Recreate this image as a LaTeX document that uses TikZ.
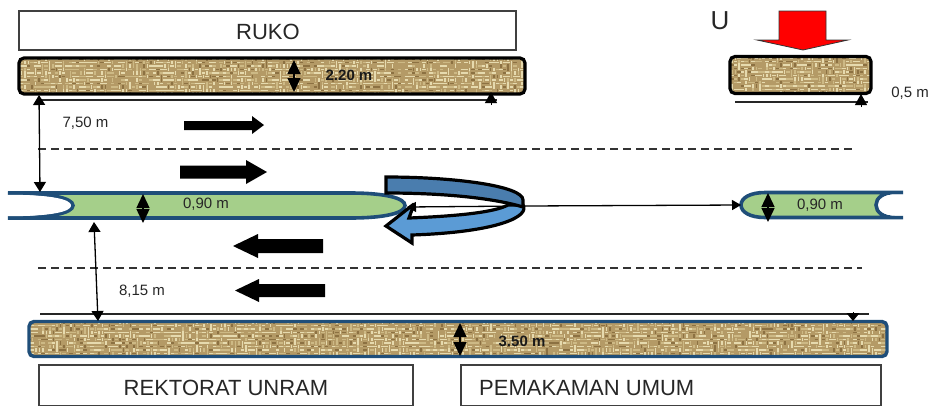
\documentclass[tikz,border=0pt]{standalone}
\usepackage{fontspec}
\setmainfont{Liberation Sans}
\usetikzlibrary{arrows.meta}
\definecolor{burlapbase}{HTML}{B49A66}
\definecolor{burlaplight}{HTML}{E6DAAE}
\definecolor{burlapmid}{HTML}{CDB985}
\definecolor{burlapdark}{HTML}{8C7142}
\definecolor{medgreen}{HTML}{A5CF8A}
\definecolor{medblue}{HTML}{1F4E79}
\definecolor{turndark}{HTML}{4A7DAE}
\definecolor{turnlight}{HTML}{5B9BD5}
\newcommand{\weavefill}[2]{%
  \fill[burlapbase] (-#1/2-3,-#2/2-3) rectangle (#1/2+3,#2/2+3);
  \pgfmathsetmacro{\wlimit}{#1/2+2}
  \pgfmathsetmacro{\hlimit}{#2/2+2}
  \foreach \wy in {-24,-20.5,...,24}{%
    \pgfmathparse{abs(\wy)<\hlimit ? 1 : 0}
    \ifnum\pgfmathresult=1
    \foreach \wx in {-450,-446.5,...,450}{%
      \pgfmathparse{abs(\wx)<\wlimit ? 1 : 0}
      \ifnum\pgfmathresult=1
        \pgfmathrandominteger{\wk}{0}{6}
        \pgfmathrandominteger{\wd}{0}{2}
        \ifcase\wk\def\wc{burlaplight}\or\def\wc{burlaplight}\or\def\wc{burlaplight}\or\def\wc{burlapmid}\or\def\wc{burlapmid}\or\def\wc{burlapdark}\or\def\wc{burlapbase}\fi
        \ifnum\wd=0
          \draw[\wc,line width=1.4pt] (\wx,\wy-1.8) -- (\wx,\wy+1.8);
        \else
          \draw[\wc,line width=1.4pt] (\wx-1.8,\wy) -- (\wx+1.8,\wy);
        \fi
      \fi
    }
    \fi
  }%
}
\tikzset{
  x=1pt,y=-1pt,
  textbox/.style={draw=black!75,line width=1.1pt,fill=white,inner sep=0pt,outer sep=0pt},
  boxlab/.style={inner sep=0pt,font=\fontsize{22}{26}\selectfont,text=black!85},
  bar/.style={rounded corners=5pt,inner sep=0pt,outer sep=0pt,line width=3.2pt},
  blackbar/.style={bar,draw=black},
  bluebar/.style={bar,draw=medblue,line width=3.4pt},
  dim/.style={line width=1.3pt,{Triangle[length=10pt,width=12pt]}-{Triangle[length=10pt,width=12pt]}},
  thick dim/.style={line width=1.4pt,{Triangle[length=14pt,width=13pt]}-{Triangle[length=14pt,width=13pt]}},
  baseline rule/.style={line width=1.2pt,black!85},
  lane/.style={line width=1.2pt,black!80,dash pattern=on 8pt off 5pt},
  road arrow/.style={fill=black,draw=none},
  median/.style={fill=medgreen,draw=medblue,line width=3.6pt},
  lab/.style={inner sep=0pt,font=\fontsize{15}{18}\selectfont,text=black!85},
  boldlab/.style={inner sep=0pt,font=\fontsize{15}{18}\bfseries\selectfont,text=black!90},
  turn/.style={draw=black,line width=3.2pt,line join=miter,miter limit=3},
  tick/.style={line width=1pt,-{Triangle[length=11pt,width=12pt]}},
}
\begin{document}
\begin{tikzpicture}
\useasboundingbox (0,0) rectangle (929,405);
\pgfmathsetseed{4217}
% text boxes
\node[textbox,minimum width=497pt,minimum height=39pt] (ruko) at (267.5,30.5) {};
\node[boxlab] (rukot) at (268,32) {RUKO};
\node[textbox,minimum width=374pt,minimum height=41pt] (rek) at (226,385.5) {};
\node[boxlab] (rekt) at (226,388) {REKTORAT UNRAM};
\node[textbox,minimum width=420pt,minimum height=41pt] (pem) at (671,385.5) {};
\node[boxlab,anchor=west] (pemt) at (479,388) {PEMAKAMAN UMUM};
% burlap strips
\node[blackbar,minimum width=506pt,minimum height=36pt,path picture={\weavefill{506}{36}}] (topbar) at (272,76) {};
\node[blackbar,minimum width=141pt,minimum height=37pt,path picture={\weavefill{141}{37}}] (rightbar) at (800.5,75) {};
\node[bluebar,minimum width=858pt,minimum height=35pt,path picture={\weavefill{858}{35}}] (lowbar) at (458,339) {};
% median shapes
\path[median] (8,193) -- (350,193) .. controls (385,193) and (405,198) .. (405,205.5) .. controls (405,213) and (385,218) .. (350,218) -- (8,218) .. controls (50,218) and (73,213) .. (73,205.5) .. controls (73,198) and (50,193) .. (8,193) -- cycle;
\path[fill=white] (6,194.8) -- (8,194.8) .. controls (50,194.8) and (71,199) .. (71,205.5) .. controls (71,212) and (50,216.2) .. (8,216.2) -- (6,216.2) -- cycle;
\path[fill=white] (880,205) .. controls (880,199) and (885,194.5) .. (895,194.5) -- (905,194.5) -- (905,215.5) -- (895,215.5) .. controls (885,215.5) and (880,211) .. (880,205) -- cycle;
\path[median] (903,192.5) -- (765,192.5) .. controls (750,192.5) and (741,198) .. (741,205) .. controls (741,212) and (750,217.5) .. (765,217.5) -- (903,217.5) -- (895,217.5) .. controls (883,217.5) and (876,212) .. (876,205) .. controls (876,198) and (883,192.5) .. (895,192.5) -- cycle;
\path[fill=white] (878.5,205) .. controls (878.5,199) and (885,194.5) .. (895,194.5) -- (905,194.5) -- (905,215.5) -- (895,215.5) .. controls (885,215.5) and (878.5,211) .. (878.5,205) -- cycle;
\coordinate (medleft) at (40,192);
\coordinate (medlow) at (94,222);
\coordinate (mtipL) at (407,207);
\coordinate (mtipR) at (741,205);
% lane lines
\coordinate (l1a) at (38,149); \coordinate (l1b) at (855,149);
\coordinate (l2a) at (38,268); \coordinate (l2b) at (862,268);
\draw[lane] (l1a) -- (l1b);
\draw[lane] (l2a) -- (l2b);
% baselines
\coordinate (b1a) at (37,100); \coordinate (b1b) at (497,100);
\coordinate (b2a) at (735,102); \coordinate (b2b) at (868,102);
\coordinate (b3a) at (40,314); \coordinate (b3b) at (869,314);
\draw[baseline rule] (b1a) -- (b1b);
\draw[baseline rule] (b2a) -- (b2b);
\draw[baseline rule] (b3a) -- (b3b);
% short ticks
\coordinate (t1a) at (491,105); \coordinate (t1b) at (491,92);
\coordinate (t2a) at (861,107); \coordinate (t2b) at (861,94);
\coordinate (t3a) at (853,312); \coordinate (t3b) at (853,321);
\draw[tick] (t1a) -- (t1b);
\draw[tick] (t2a) -- (t2b);
\draw[line width=1pt,-{Triangle[length=8pt,width=13pt]}] (t3a) -- (t3b);
% dimension arrows
\coordinate (d1) at (39,95);
\draw[dim] (d1) -- (medleft);
\coordinate (d2) at (98,321);
\draw[dim] (medlow) -- (d2);
\coordinate (w1a) at (294,60); \coordinate (w1b) at (294,92);
\coordinate (w2a) at (143,194); \coordinate (w2b) at (143,223);
\coordinate (w3a) at (768,193); \coordinate (w3b) at (768,222);
\coordinate (w4a) at (460,323); \coordinate (w4b) at (460,356);
\draw[thick dim] (w1a) -- (w1b);
\draw[thick dim] (w2a) -- (w2b);
\draw[thick dim] (w3a) -- (w3b);
\draw[thick dim] (w4a) -- (w4b);
% traffic arrows
\fill[road arrow] (184,121) -- (252,121) -- (252,116) -- (264,125) -- (252,134) -- (252,130) -- (184,130) -- cycle;
\fill[road arrow] (180,165.5) -- (246,165.5) -- (246,160) -- (267,172) -- (246,184) -- (246,178.5) -- (180,178.5) -- cycle;
\fill[road arrow] (323,239) -- (258,239) -- (258,234) -- (233,246) -- (258,258) -- (258,253) -- (323,253) -- cycle;
\fill[road arrow] (325,284) -- (259,284) -- (259,279) -- (235,290.5) -- (259,302) -- (259,297) -- (325,297) -- cycle;
% through line and U-turn
\coordinate (turnend) at (525,206);
\draw[line width=1.3pt,-{Triangle[length=9pt,width=10pt]}] (turnend) -- (mtipR);
\draw[line width=1.3pt,-{Triangle[length=9pt,width=10pt]}] (turnend) -- (mtipL);
\path[turn,fill=turnlight] (523,205) .. controls (530,216) and (500,232) .. (412,235) -- (412,243) -- (386,226) -- (414,204) -- (409,218) .. controls (460,216) and (495,212) .. (508,205) -- cycle;
\path[turn,fill=turndark] (386,177) .. controls (455,177) and (523,186) .. (523,200) -- (523,207) .. controls (500,200) and (455,193) .. (386,193) -- cycle;
% red arrow
\draw[fill=red,draw=black!80,line width=.8pt,line join=miter] (779,11) -- (826,11) -- (826,40) -- (848,40) -- (803,50) -- (757,40) -- (779,40) -- cycle;
% labels
\node[inner sep=0pt,font=\fontsize{26}{30}\selectfont,text=black!85] (u) at (720,21) {U};
\node[lab] (t750) at (85.5,123) {7,50 m};
\node[lab] (t815) at (142,291) {8,15 m};
\node[lab] (t090a) at (206,204) {0,90 m};
\node[lab] (t090b) at (820,205) {0,90 m};
\node[lab] (t05) at (910,93) {0,5 m};
\node[boldlab] (t220) at (349,75) {2.20 m};
\node[boldlab] (t350) at (522,341) {3.50 m};
\end{tikzpicture}
\end{document}
